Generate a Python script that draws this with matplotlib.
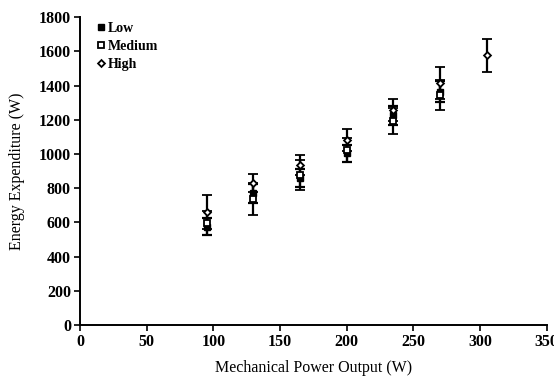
import matplotlib
matplotlib.use("Agg")
import matplotlib.pyplot as plt

plt.rcParams['font.family'] = ['Liberation Serif', 'DejaVu Serif']

x_low = [95, 130, 165, 200, 235, 270]
low = [575, 771, 860, 1005, 1227, 1365]
low_err = [50, 55, 55, 50, 55, 60]

x_med = [95, 130, 165, 200, 235, 270]
med = [596, 736, 877, 1023, 1192, 1344]
med_err = [70, 93, 88, 70, 76, 87]

x_high = [95, 130, 165, 200, 235, 270, 305]
high = [660, 830, 935, 1081, 1257, 1414, 1578]
high_err = [100, 52, 59, 64, 64, 94, 97]

xticks = [0, 50, 100, 150, 200, 250, 300, 350]
yticks = [0, 200, 400, 600, 800, 1000, 1200, 1400, 1600, 1800]

fig = plt.figure(figsize=(5.54, 3.81), dpi=100)
ax = fig.add_axes([0.1444, 0.147, 0.8426, 0.808])

ekw = dict(ecolor='black', elinewidth=1.6, capsize=3.5, capthick=1.6, linestyle='none')
ax.errorbar(x_low, low, yerr=low_err, marker='s', ms=4, mfc='black', mec='black', label='Low', **ekw)
ax.errorbar(x_med, med, yerr=med_err, marker='s', ms=4.5, mfc='white', mec='black', mew=1.3, label='Medium', **ekw)
ax.errorbar(x_high, high, yerr=high_err, marker='D', ms=3.5, mfc='white', mec='black', mew=1.3, label='High', **ekw)

ax.set_xlim(0, 350)
ax.set_ylim(0, 1800)
ax.set_xticks(xticks)
ax.set_yticks(yticks)
ax.spines['top'].set_visible(False)
ax.spines['right'].set_visible(False)
for s in ['left', 'bottom']:
    ax.spines[s].set_linewidth(1.4)
ax.tick_params(direction='out', length=4, width=1.2, labelsize=11.5, pad=2.5)
for lab in ax.get_xticklabels() + ax.get_yticklabels():
    lab.set_fontweight('bold')

ax.set_xlabel('Mechanical Power Output (W)', fontsize=11.5, labelpad=7)
ax.set_ylabel('Energy Expenditure (W)', fontsize=11.5, labelpad=10)

handles, labels = ax.get_legend_handles_labels()
leg = ax.legend([h[0] for h in handles], labels, loc='upper left', bbox_to_anchor=(0.01, 1.025),
                frameon=False, handlelength=0.5, handletextpad=0.3,
                labelspacing=0.35, prop={'weight': 'bold', 'size': 10})

fig.savefig('out.png', dpi=100)
